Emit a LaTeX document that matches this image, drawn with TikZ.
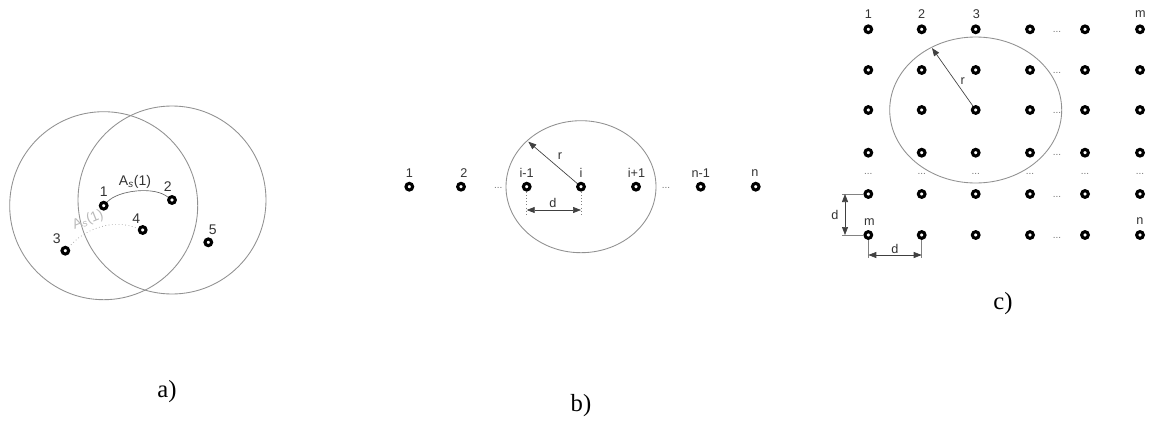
\documentclass[tikz,border=0pt]{standalone}
\usepackage{fontspec}
\setmainfont{Liberation Serif}
\setsansfont{Liberation Sans}
\usetikzlibrary{arrows.meta}
\definecolor{ringgray}{RGB}{145,145,145}
\definecolor{lightlab}{RGB}{185,185,185}
\definecolor{dimgray}{RGB}{130,130,130}
\tikzset{
  sensor/.style={circle,draw=black,line width=2.3pt,inner sep=0pt,minimum size=5pt},
  ring/.style={draw=ringgray,line width=0.65pt},
  lab/.style={font=\sffamily\fontsize{9.5}{10}\selectfont,text=black!80,inner sep=0pt},
  laba/.style={font=\sffamily\fontsize{10.5}{11}\selectfont,text=black!80,inner sep=0pt},
  dots/.style={font=\sffamily\fontsize{7.5}{8}\selectfont,text=black!55,inner sep=0pt},
  captext/.style={font=\rmfamily\fontsize{18.5}{20}\selectfont,inner sep=0pt},
  arr/.style={draw=black!75,line width=0.5pt,-{Triangle[length=6pt,width=4.5pt]}},
  dimarr/.style={draw=black!75,line width=0.5pt,{Triangle[length=6pt,width=4.5pt]}-{Triangle[length=6pt,width=4.5pt]}},
  ext/.style={draw=dimgray,line width=0.4pt},
  extdot/.style={draw=dimgray,line width=0.4pt,dotted},
}
\begin{document}
\begin{tikzpicture}[x=0.75pt,y=-0.75pt]
\useasboundingbox (0,0) rectangle (1156,425);
% ---------------- panel a
\node[sensor] (a1) at (103.7,205.7) {};
\node[sensor] (a2) at (172,200) {};
\node[sensor] (a3) at (65.3,250.7) {};
\node[sensor] (a4) at (142.7,230) {};
\node[sensor] (a5) at (208.3,242.3) {};
\draw[ring] (a1) circle [radius=94];
\draw[ring] (a2) circle [radius=94];
\node[laba] (la1) at (103.7,192) {1};
\node[laba] (la2) at (167.7,187) {2};
\node[laba] (la3) at (56.7,239) {3};
\node[laba] (la4) at (136.3,218.5) {4};
\node[laba] (la5) at (212.7,229.5) {5};
\draw[draw=black!60,line width=0.5pt] (a1.47) .. controls (118,190) and (155,186) .. (a2.145);
\node[laba] (As) at (135,182) {A\textsubscript{\itshape s}(1)};
\draw[draw=black!45,line width=0.5pt,dotted] (a3.45) .. controls (85,228) and (115,218) .. (a4.165);
\node[laba,text=lightlab,rotate=22] (As2) at (88,220) {A\textsubscript{\itshape s}(1)};
\node[captext] (capa) at (167,392) {a)};
% ---------------- panel b
\node[sensor] (b1) at (409.3,186.7) {};
\node[sensor] (b2) at (461,186.7) {};
\node[sensor] (bim) at (526.7,186.7) {};
\node[sensor] (bi) at (581,186.7) {};
\node[sensor] (bip) at (636,186.7) {};
\node[sensor] (bnm) at (700.7,186.7) {};
\node[sensor] (bn) at (755.7,186.7) {};
\node[lab] (lb1) at (409.3,173) {1};
\node[lab] (lb2) at (464,173) {2};
\node[lab] (lbim) at (526.7,173) {i-1};
\node[lab] (lbi) at (581,173) {i};
\node[lab] (lbip) at (636.5,173) {i+1};
\node[lab] (lbnm) at (700.7,173) {n-1};
\node[lab] (lbn) at (755,173) {n};
\node[dots] (db1) at (498.3,188) {...};
\node[dots] (db2) at (666,188) {...};
\draw[ring] (bi) ellipse [x radius=75, y radius=66];
\coordinate (br) at (528.3,141.7);
\draw[arr] (bi) -- (br);
\node[lab] (lr) at (560,156) {r};
\coordinate (bdl) at (526.7,215);
\coordinate (bdr) at (581,215);
\draw[extdot] (bim.south) -- (bdl);
\draw[extdot] (bi.south) -- (bdr);
\draw[dimarr] (526.7,210) -- (581,210);
\node[lab] (ld) at (553,203) {d};
\node[captext] (capb) at (581,406) {b)};
% ---------------- panel c
\foreach \i/\x in {1/868.3,2/921.7,3/975.7,4/1030,5/1085,6/1140}{
  \foreach \j/\y in {1/29.3,2/70,3/110,4/152.7,5/194,6/235}{
    \node[sensor] (c-\i-\j) at (\x,\y) {};
  }
  \node[dots] (cd-\i) at (\x,173.5) {...};
}
\foreach \j/\y in {1/29.3,2/70,3/110,4/152.7,5/194,6/235}{
  \node[dots] (ce-\j) at (1057,\y+2.5) {...};
}
\node[lab] (lc1) at (868.3,14.5) {1};
\node[lab] (lc2) at (921.7,14.5) {2};
\node[lab] (lc3) at (976.5,14.5) {3};
\node[lab] (lcm) at (1140.5,14.5) {m};
\node[lab] (lcm2) at (869.5,222) {m};
\node[lab] (lcn) at (1140,221.5) {n};
\draw[ring] (c-3-3) ellipse [x radius=86, y radius=73];
\coordinate (cr) at (932,48);
\draw[arr] (c-3-3) -- (cr);
\node[lab] (lcr) at (962.7,81.5) {r};
\coordinate (cv1) at (842,194);
\coordinate (cv2) at (842,235);
\draw[ext] (cv1) -- (c-1-5.west);
\draw[ext] (cv2) -- (c-1-6.west);
\draw[dimarr] (845,194) -- (845,235);
\node[lab] (lcd1) at (835,215) {d};
\coordinate (ch1) at (868.3,258);
\coordinate (ch2) at (921.7,258);
\draw[ext] (c-1-6.south) -- (ch1);
\draw[ext] (c-2-6.south) -- (ch2);
\draw[dimarr] (868.3,255) -- (921.7,255);
\node[lab] (lcd2) at (895,248.5) {d};
\node[captext] (capc) at (1003,304) {c)};
\end{tikzpicture}
\end{document}
